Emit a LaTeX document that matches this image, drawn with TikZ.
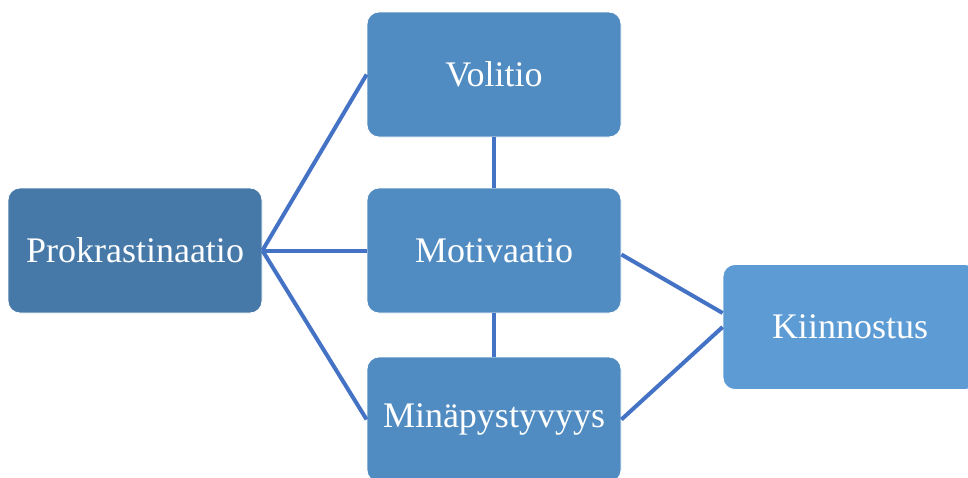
\documentclass[tikz,border=0pt]{standalone}
\usepackage{fontspec}
\setmainfont{Liberation Serif}
\usepackage{tikz}
\usepackage{xcolor}
\definecolor{darkbox}{RGB}{70, 120, 168}
\definecolor{midbox}{RGB}{80, 140, 193}
\definecolor{lightbox}{RGB}{93, 155, 212}
\definecolor{linkblue}{RGB}{68, 114, 196}

\begin{document}
\begin{tikzpicture}[x=1pt, y=-1pt,
    box/.style={draw=white, line width=0.8pt, rounded corners=12pt, minimum width=254pt,
      minimum height=125pt, text=white, inner sep=0pt, font=\fontsize{36}{43}\selectfont},
    link/.style={linkblue, line width=4pt}]
    \useasboundingbox (0,0) rectangle (968,477);

    % Boxes
    \node[box, fill=darkbox] (prok) at (135,250.5) {Prokrastinaatio};
    \node[box, fill=midbox] (volitio) at (494,74.5) {Volitio};
    \node[box, fill=midbox] (motiv) at (494,250.5) {Motivaatio};
    \node[box, fill=midbox] (mina) at (494,419.5) {Minäpystyvyys};
    \node[box, fill=lightbox] (kiin) at (850,327) {Kiinnostus};

    % Lines
    \draw[link] (prok.east) -- (volitio.west);
    \draw[link] (prok.east) -- (motiv.west);
    \draw[link] (prok.east) -- (mina.west);
    \draw[link] (volitio.south) -- (motiv.north);
    \draw[link] (motiv.south) -- (mina.north);
    \draw[link] ([yshift=-4pt]motiv.east) -- ([yshift=14pt]kiin.west);
    \draw[link] (mina.east) -- (kiin.west);
\end{tikzpicture}
\end{document}
